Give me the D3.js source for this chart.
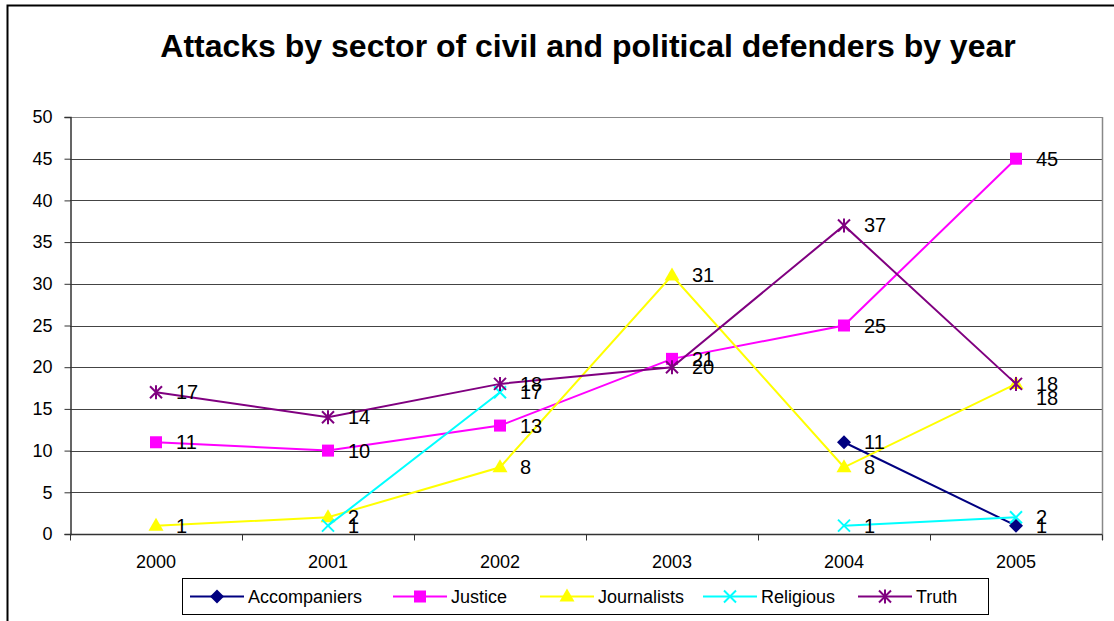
<!DOCTYPE html>
<html>
<head>
<meta charset="utf-8">
<script src="https://cdn.jsdelivr.net/npm/d3@7"></script>
<style>
  html, body { margin: 0; padding: 0; background: #fff; }
  svg { display: block; font-family: "Liberation Sans", Arial, sans-serif; }
</style>
</head>
<body>
<svg id="chart" width="1114" height="621"></svg>
<script>
// Years on the category axis
const years = ["2000", "2001", "2002", "2003", "2004", "2005"];

// Attacks per sector (null = no data for that year)
const accompaniers = [null, null, null, null, 11, 1];
const justice      = [11, 10, 13, 21, 25, 45];
const journalists  = [1, 2, 8, 31, 8, 18];
const religious    = [null, 1, 17, null, 1, 2];
const truth        = [17, 14, 18, 20, 37, 18];

const yTicks = [0, 5, 10, 15, 20, 25, 30, 35, 40, 45, 50];

const seriesNames  = ["Accompaniers", "Justice", "Journalists", "Religious", "Truth"];
const seriesValues = [accompaniers, justice, journalists, religious, truth];
const seriesColors = ["#000080", "#FF00FF", "#FFFF00", "#00FFFF", "#800080"];
const seriesShapes = ["diamond", "square", "triangle", "cross", "asterisk"];

const svg = d3.select("#chart");

// Outer chart frame (top and left edges show in the window)
svg.append("rect")
  .attr("x", 7.5).attr("y", 5.5)
  .attr("width", 1140).attr("height", 640)
  .attr("fill", "none").attr("stroke", "#000").attr("stroke-width", 2);

// Title
svg.append("text")
  .attr("x", 588).attr("y", 57)
  .attr("text-anchor", "middle")
  .attr("font-size", 32).attr("font-weight", "bold")
  .text("Attacks by sector of civil and political defenders by year");

const plot = { left: 70, right: 1102, top: 117, bottom: 534 };

const x = d3.scaleBand().domain(years).range([plot.left, plot.right]);
const y = d3.scaleLinear().domain([0, 50]).range([plot.bottom, plot.top]);
const cx = d => x(d) + x.bandwidth() / 2;

// Horizontal gridlines
svg.append("g")
  .selectAll("line")
  .data(yTicks.filter(t => t > 0))
  .join("line")
  .attr("x1", plot.left).attr("x2", plot.right)
  .attr("y1", d => Math.round(y(d)) + 0.5).attr("y2", d => Math.round(y(d)) + 0.5)
  .attr("stroke", d => d === 50 ? "#888" : "#444").attr("stroke-width", 1.2);

// Right plot border
svg.append("line")
  .attr("x1", plot.right + 0.5).attr("x2", plot.right + 0.5)
  .attr("y1", plot.top).attr("y2", plot.bottom + 6)
  .attr("stroke", "#888").attr("stroke-width", 1.5);

// Y axis
const yAxis = svg.append("g")
  .attr("transform", `translate(${plot.left + 0.5},0)`)
  .call(d3.axisLeft(y).tickValues(yTicks).tickSize(6).tickPadding(12).tickFormat(d3.format("d")));
yAxis.select(".domain").attr("stroke", "#333").attr("stroke-width", 1.5);
yAxis.selectAll(".tick line").attr("stroke", "#333");
yAxis.selectAll(".tick text").attr("font-size", 18).attr("fill", "#000")
  .attr("font-family", "Liberation Sans, Arial, sans-serif");

// X axis with ticks between categories
const xAxis = svg.append("g")
  .attr("transform", `translate(0,${plot.bottom + 0.5})`);
xAxis.append("line")
  .attr("x1", plot.left).attr("x2", plot.right)
  .attr("stroke", "#333").attr("stroke-width", 1.5);
const xEdges = years.map(d => x(d)).concat([plot.right]);
xAxis.selectAll("line.tick")
  .data(xEdges)
  .join("line").attr("class", "tick")
  .attr("x1", d => Math.round(d) + 0.5).attr("x2", d => Math.round(d) + 0.5)
  .attr("y1", 0).attr("y2", 6)
  .attr("stroke", "#333").attr("stroke-width", 1);
xAxis.selectAll("text")
  .data(years)
  .join("text")
  .attr("x", d => cx(d)).attr("y", 33)
  .attr("text-anchor", "middle").attr("font-size", 18)
  .text(d => d);

// Marker drawing
function drawMarker(g, shape, color, px, py) {
  if (shape === "diamond") {
    g.append("path").attr("d", `M${px},${py - 7}L${px + 7},${py}L${px},${py + 7}L${px - 7},${py}Z`)
      .attr("fill", color);
  } else if (shape === "square") {
    g.append("rect").attr("x", px - 6).attr("y", py - 6).attr("width", 12).attr("height", 12)
      .attr("fill", color);
  } else if (shape === "triangle") {
    g.append("path").attr("d", `M${px},${py - 8}L${px + 7.5},${py + 5}L${px - 7.5},${py + 5}Z`)
      .attr("fill", color);
  } else if (shape === "cross") {
    g.append("path").attr("d", `M${px - 6},${py - 6}L${px + 6},${py + 6}M${px - 6},${py + 6}L${px + 6},${py - 6}`)
      .attr("stroke", color).attr("stroke-width", 2).attr("fill", "none");
  } else if (shape === "asterisk") {
    g.append("path").attr("d",
      `M${px - 6},${py - 6}L${px + 6},${py + 6}M${px - 6},${py + 6}L${px + 6},${py - 6}M${px},${py - 7}L${px},${py + 7}`)
      .attr("stroke", color).attr("stroke-width", 2).attr("fill", "none");
  }
}

const line = d3.line()
  .defined(d => d.v !== null)
  .x(d => cx(d.year))
  .y(d => y(d.v));

const seriesG = svg.append("g");
const labelG = svg.append("g");
const placed = [];

seriesNames.forEach((name, i) => {
  const pts = years.map((yr, j) => ({ year: yr, v: seriesValues[i][j] }));
  const g = seriesG.append("g");
  g.append("path")
    .datum(pts)
    .attr("d", line)
    .attr("fill", "none")
    .attr("stroke", seriesColors[i])
    .attr("stroke-width", 2);
  pts.filter(p => p.v !== null).forEach(p => {
    drawMarker(g, seriesShapes[i], seriesColors[i], cx(p.year), y(p.v));
    // a label landing exactly on another one is nudged down so both stay legible
    const key = p.year + ":" + p.v;
    const nudge = placed.includes(key) ? 14 : 0;
    placed.push(key);
    labelG.append("text")
      .attr("x", cx(p.year) + 20)
      .attr("y", y(p.v) + 7 + nudge)
      .attr("font-size", 20)
      .text(p.v);
  });
});

// Legend
const legend = svg.append("g");
legend.append("rect")
  .attr("x", 182.5).attr("y", 578.5).attr("width", 806).attr("height", 36)
  .attr("fill", "#fff").attr("stroke", "#000").attr("stroke-width", 1);
const legendX = [190, 393, 540, 703, 858];
seriesNames.forEach((name, i) => {
  const lx = legendX[i], ly = 596.5;
  legend.append("line")
    .attr("x1", lx).attr("x2", lx + 54).attr("y1", ly).attr("y2", ly)
    .attr("stroke", seriesColors[i]).attr("stroke-width", 2);
  drawMarker(legend, seriesShapes[i], seriesColors[i], lx + 27, ly);
  legend.append("text")
    .attr("x", lx + 58).attr("y", ly + 6.5)
    .attr("font-size", 18)
    .text(name);
});
</script>
</body>
</html>
